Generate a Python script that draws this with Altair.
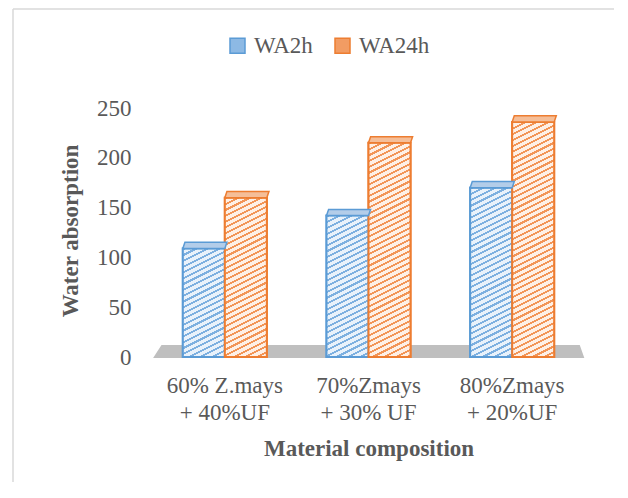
import math
import altair as alt
import pandas as pd

# ---------------- data ----------------
categories = ["60% Z.mays|+ 40%UF", "70%Zmays|+ 30% UF", "80%Zmays|+ 20%UF"]
series = ["WA2h", "WA24h"]
wa2h = [109, 142, 170]
wa24h = [160, 215, 236]
y_ticks = [0, 50, 100, 150, 200, 250]

# ---------------- style ----------------
W, H = 431, 249
YMAX = 250
STEP = W / len(categories)
BAR_W = 42.0
PO = (STEP / BAR_W - 2) / 2
FONT = "Liberation Serif"
TXT = "#595959"
stroke_c = {"WA2h": "#5B9BD5", "WA24h": "#ED7D31"}
bg_c = {"WA2h": "#E9F2FB", "WA24h": "#FEF0E6"}
fg_c = {"WA2h": "#7DB0E0", "WA24h": "#F29557"}
top_c = {"WA2h": "#B3CDE9", "WA24h": "#F5BE98"}
legend_fill = ["#8DB9E4", "#F29C63"]

rows = []
for i, c in enumerate(categories):
    rows.append({"cat": c, "series": "WA2h", "value": wa2h[i]})
    rows.append({"cat": c, "series": "WA24h", "value": wa24h[i]})
df = pd.DataFrame(rows)


def stripes(w, h, bg, fg, m=0.5, period=5.2, frac=0.36):
    k = (m * w + h) / (m * m * w * w + h * h)
    span = (m * w + h) / math.sqrt(m * m + 1)
    dt = period / span
    stops = []
    t = 0.0
    while t < 1.0:
        b = min(t + dt * frac, 1.0)
        c = min(t + dt, 1.0)
        stops += [
            {"offset": round(t, 5), "color": fg},
            {"offset": round(b, 5), "color": fg},
            {"offset": round(b, 5), "color": bg},
            {"offset": round(c, 5), "color": bg},
        ]
        t += dt
    return {"gradient": "linear", "x1": 0, "y1": 0,
            "x2": k * m * w, "y2": k * h, "stops": stops}


x_enc = alt.X(
    "cat:N", sort=categories,
    scale=alt.Scale(paddingInner=0, paddingOuter=0),
    axis=alt.Axis(
        title="Material composition", labelAngle=0,
        labelExpr="split(datum.label, '|')",
        labelFont=FONT, labelFontSize=23, labelColor=TXT,
        labelLineHeight=27, labelPadding=17,
        titleFont=FONT, titleFontSize=23, titleFontWeight="bold",
        titleColor=TXT, titleBaseline="middle", titleY=91,
        domain=False, ticks=False, grid=False,
    ),
)
xo_enc = alt.XOffset("series:N", sort=series,
                     scale=alt.Scale(paddingInner=0, paddingOuter=PO))
y_enc = alt.Y(
    "value:Q",
    scale=alt.Scale(domain=[0, YMAX], nice=False),
    axis=alt.Axis(
        title="Water absorption", values=y_ticks,
        labelFont=FONT, labelFontSize=23, labelColor=TXT, labelPadding=22,
        titleFont=FONT, titleFontSize=23, titleFontWeight="bold",
        titleColor=TXT, titleX=-83, titleY=H / 2 - 2, titleAngle=-90,
        titleBaseline="middle", titleAlign="center",
        domain=False, ticks=False, grid=False,
    ),
)

base = alt.Chart(df)

# border of the chart area (left and top)
frame_df = pd.DataFrame({"a": [0]})
left_border = alt.Chart(frame_df).mark_rule(color="#D9D9D9", strokeWidth=1.5).encode(
    x=alt.value(-140), y=alt.value(-99), y2=alt.value(400))
top_border = alt.Chart(frame_df).mark_rule(color="#D9D9D9", strokeWidth=1.5).encode(
    x=alt.value(-140), x2=alt.value(500), y=alt.value(-99))

# floor
floor = alt.Chart(frame_df).mark_point(
    shape="M-0.991,0L0.995,0L0.977,-0.051L-0.958,-0.051Z",
    filled=True, fill="#BFBFBF", stroke="#BFBFBF", opacity=1, size=W * W,
).encode(x=alt.value(W / 2), y=alt.datum(0))

# base bars carrying the legend
bars = base.mark_bar(strokeWidth=2).encode(
    x=x_enc, xOffset=xo_enc, y=y_enc,
    fill=alt.Fill("series:N", sort=series,
                  scale=alt.Scale(domain=series, range=legend_fill),
                  legend=alt.Legend(title=None)),
    stroke=alt.Stroke("series:N", sort=series,
                      scale=alt.Scale(domain=series, range=[stroke_c[s] for s in series]),
                      legend=alt.Legend(title=None)),
)

layers = [left_border, top_border, floor, bars]

for i, c in enumerate(categories):
    for s, vals in (("WA2h", wa2h), ("WA24h", wa24h)):
        h = vals[i] * H / YMAX
        grad = stripes(BAR_W, h, bg_c[s], fg_c[s])
        layers.append(
            base.transform_filter((alt.datum.cat == c) & (alt.datum.series == s))
            .mark_bar(fill=grad, stroke=stroke_c[s], strokeWidth=2)
            .encode(x=x_enc, xOffset=xo_enc, y=y_enc)
        )

for s in series:
    layers.append(
        base.transform_filter(alt.datum.series == s)
        .mark_point(shape="M-1,0L1,0L1.1,-0.29L-0.9,-0.29Z", filled=True,
                    fill=top_c[s], stroke=stroke_c[s], strokeWidth=1.5,
                    opacity=1, size=BAR_W * BAR_W)
        .encode(x=x_enc, xOffset=xo_enc, y=y_enc)
    )

chart = alt.layer(*layers).properties(
    width=W, height=H,
    autosize=alt.AutoSizeParams(type="none"),
    padding={"left": 145, "top": 100, "right": 30, "bottom": 125},
    background="white",
).configure_view(stroke=None).configure_legend(
    orient="none", legendX=73, legendY=-74, direction="horizontal",
    symbolType="square", symbolSize=225, symbolStrokeWidth=1.5,
    labelFont=FONT, labelFontSize=23, labelColor=TXT,
    labelOffset=5, columnPadding=18,
)

chart.save("out.html", embed_options={"renderer": "svg", "actions": False})
